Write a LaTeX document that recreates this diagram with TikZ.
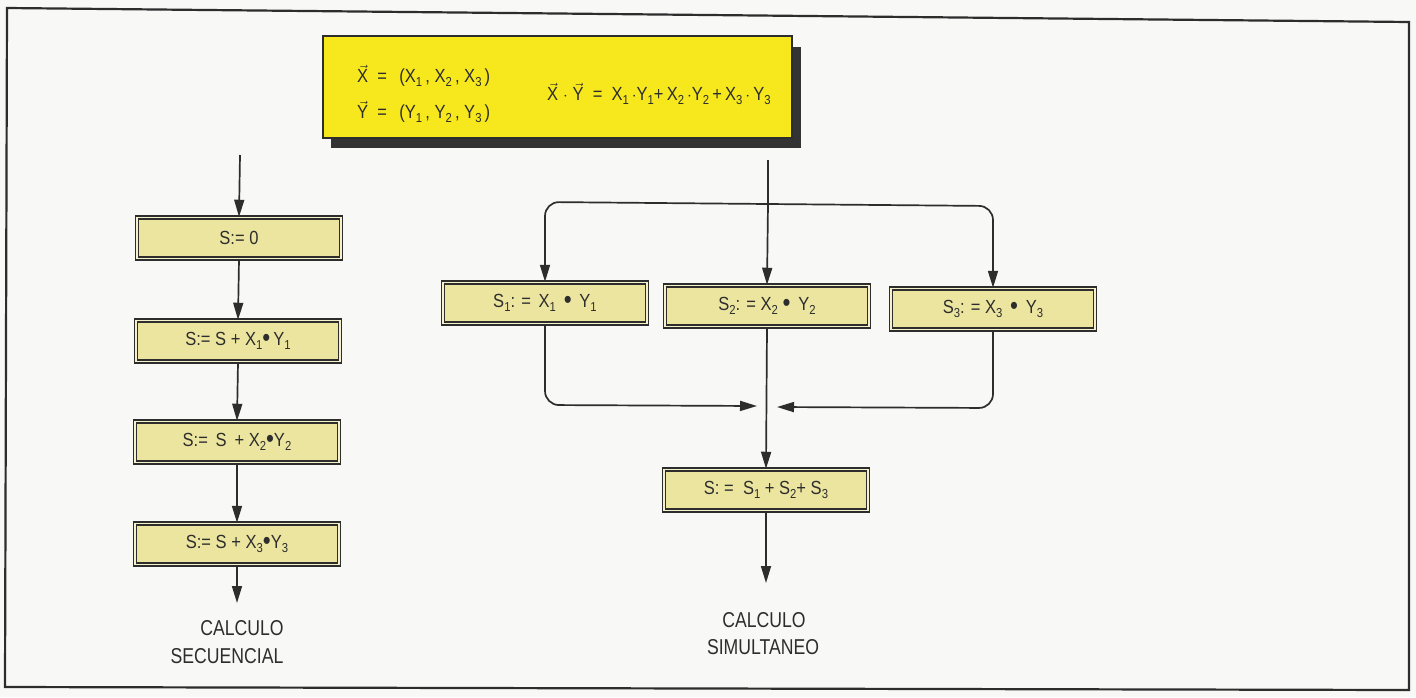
\documentclass[tikz,border=0pt]{standalone}
\usepackage{fontspec}
\setmainfont[FakeStretch=0.87]{Liberation Sans}
\newfontfamily\lblfont[FakeStretch=0.82]{Liberation Sans}
\usetikzlibrary{arrows.meta}
\definecolor{bg}{RGB}{248,248,246}
\definecolor{ybox}{RGB}{246,232,28}
\definecolor{boxfill}{RGB}{236,229,160}
\definecolor{ink}{RGB}{45,45,45}
\newcommand\sbs[1]{\raisebox{-0.4ex}{\fontsize{13}{13}\selectfont #1}}
\newcommand\bul{\raisebox{-0.12ex}{\fontsize{26}{26}\selectfont\textbullet}}
\newcommand\vc[1]{$\vec{\mbox{#1}}$}
\tikzset{
  opbox/.style={draw=ink, line width=1.5pt, double=boxfill!55!white, double distance=1.1pt,
    fill=boxfill, minimum width=204pt, minimum height=41pt, inner sep=0pt,
    font=\fontsize{19}{21}\selectfont, text=ink},
  flow/.style={draw=ink, line width=1.7pt, -{Triangle[length=17pt,width=10pt]}},
  plain/.style={draw=ink, line width=1.7pt},
  lbl/.style={font=\lblfont\fontsize{21.5}{24}\selectfont, text=ink, inner sep=0pt},
  ylbl/.style={font=\fontsize{19}{21}\selectfont, text=ink, inner sep=0pt, anchor=west},
}
\begin{document}
\begin{tikzpicture}[x=1pt,y=-1pt]
\useasboundingbox (0,0) rectangle (1416,697);
\fill[bg] (0,0) rectangle (1416,697);
% outer frame
\draw[ink, line width=2.2pt] (7,8) -- (1409,22) -- (1409,690) -- (5,687) -- cycle;
% header box with shadow
\fill[black!80] (331,47) rectangle (801,148);
\node[draw=ink, line width=1.6pt, fill=ybox, minimum width=469pt, minimum height=102pt, inner sep=0pt] (hdr) at (557.5,87) {};
\node[ylbl] (xdef) at (357,76) {\vc{X} \ = \ \,(X\sbs{1}\,, X\sbs{2}\,, X\sbs{3}\,)};
\node[ylbl] (ydef) at (357,112) {\vc{Y} \ = \ \,(Y\sbs{1}\,, Y\sbs{2}\,, Y\sbs{3}\,)};
\node[ylbl] (dotp) at (547,94) {\vc{X}$\;\cdot\;$\vc{Y} \ = \ X\sbs{1}$\,\cdot$Y\sbs{1}+\,X\sbs{2}$\,\cdot$Y\sbs{2}\,+\,X\sbs{3}$\,\cdot$\,Y\sbs{3}};
% sequential column
\coordinate (lin) at (240,155);
\node[opbox] (b1) at (239,238) {S:= 0};
\node[opbox] (b2) at (238,341) {S:= S + X\sbs{1}\bul\,Y\sbs{1}};
\node[opbox] (b3) at (237,442) {S:= \,S \,+ X\sbs{2}\bul Y\sbs{2}};
\node[opbox] (b4) at (237,544) {S:= S + X\sbs{3}\bul Y\sbs{3}};
\coordinate (lout) at (237,603);
\draw[flow] (lin) -- (b1.north);
\draw[flow] (b1.south) -- (b2.north);
\draw[flow] (b2.south) -- (b3.north);
\draw[flow] (b3.south) -- (b4.north);
\draw[flow] (b4.south) -- (lout);
\node[lbl] (seq1) at (242,628) {CALCULO};
\node[lbl] (seq2) at (227,656) {SECUENCIAL};
% simultaneous part
\coordinate (rin) at (768,160);
\coordinate (split) at (768,204);
\node[opbox] (s1) at (545,303) {S\sbs{1}: = \,X\sbs{1} \,\bul\, Y\sbs{1}};
\node[opbox] (s2) at (767,306) {S\sbs{2}: = X\sbs{2} \bul\, Y\sbs{2}};
\node[opbox] (s3) at (993,309) {S\sbs{3}: = X\sbs{3} \,\bul\, Y\sbs{3}};
\draw[plain] (rin) -- (split);
\draw[flow] (split) -- (s2.north);
\draw[flow, rounded corners=14pt] (split) -- (545,202) -- (s1.north);
\draw[flow, rounded corners=14pt] (split) -- (993,206) -- (s3.north);
\coordinate (mL) at (757,406);
\coordinate (mR) at (777,407);
\node[opbox] (tot) at (766,490) {S: = \ S\sbs{1} + S\sbs{2}+ S\sbs{3}};
\draw[flow, rounded corners=14pt] (s1.south) -- (545,405) -- (mL);
\draw[flow, rounded corners=14pt] (s3.south) -- (993,408) -- (mR);
\draw[flow] (s2.south) -- (tot.north);
\coordinate (rout) at (766,583);
\draw[flow] (tot.south) -- (rout);
\node[lbl] (sim1) at (764,620) {CALCULO};
\node[lbl] (sim2) at (763,647) {SIMULTANEO};
\end{tikzpicture}
\end{document}
